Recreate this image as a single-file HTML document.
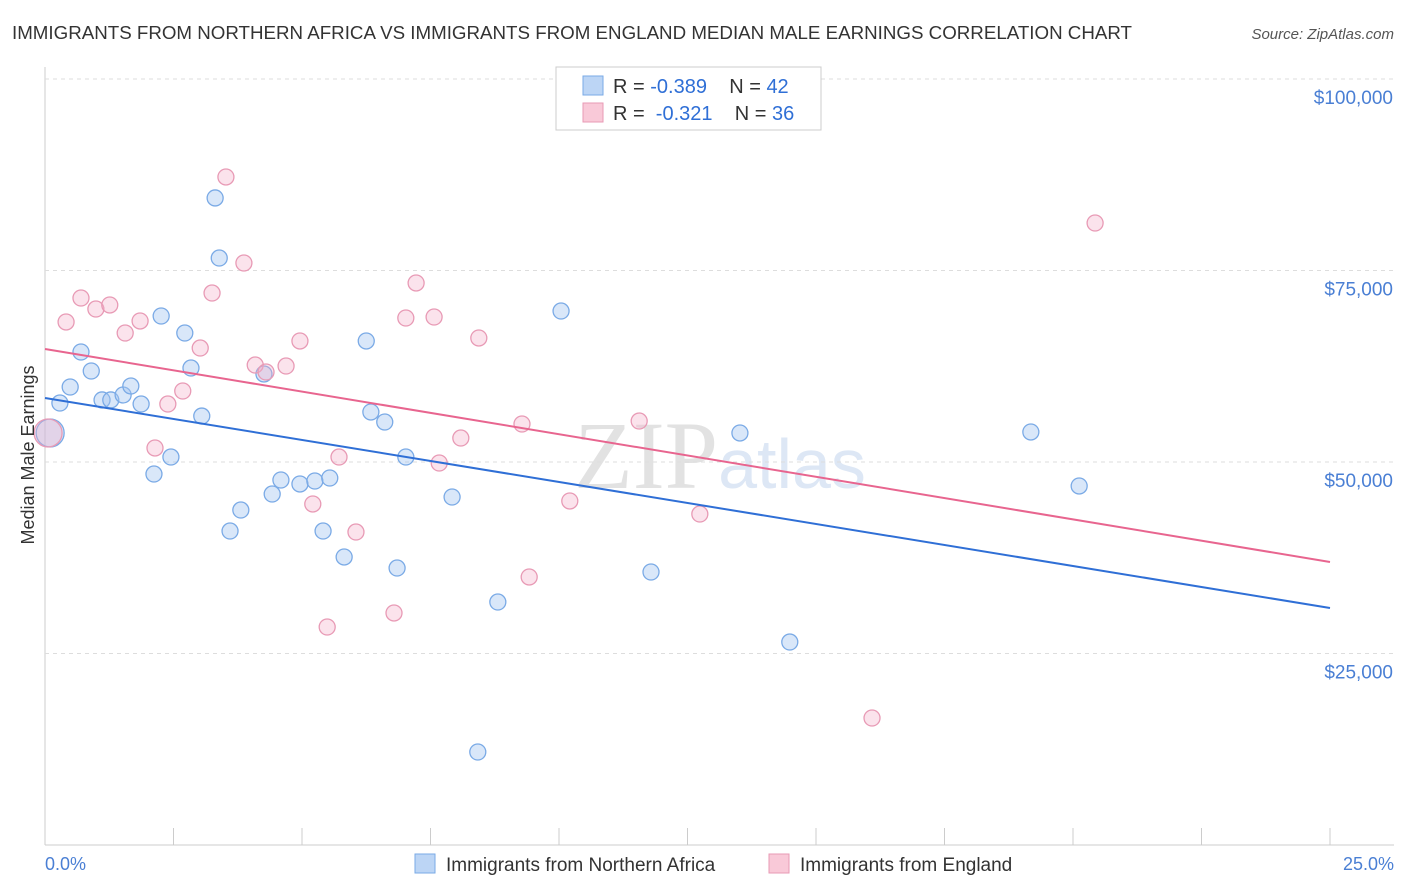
<!DOCTYPE html>
<html><head><meta charset="utf-8"><style>
body{margin:0;background:#fff;font-family:"Liberation Sans",sans-serif;}
svg{display:block}
</style></head><body>
<svg id="chart" width="1406" height="892">
<text x="12" y="39" font-size="18" fill="#333" textLength="1120" lengthAdjust="spacingAndGlyphs">IMMIGRANTS FROM NORTHERN AFRICA VS IMMIGRANTS FROM ENGLAND MEDIAN MALE EARNINGS CORRELATION CHART</text>
<text x="1394" y="39" font-size="15" fill="#555" font-style="italic" text-anchor="end">Source: ZipAtlas.com</text>
<text x="720" y="488" font-size="96" fill="#e6e6e6" text-anchor="middle" font-family="Liberation Serif,serif"><tspan fill="#e2e2e2">ZIP</tspan><tspan fill="#dde7f5" font-family="Liberation Sans,sans-serif" font-size="70">atlas</tspan></text>
<g id="grid"></g>
<g id="marks"></g>
<text transform="translate(34,455) rotate(-90)" font-size="18" fill="#333" text-anchor="middle">Median Male Earnings</text>
<text x="45" y="870" font-size="18" fill="#4a7fd4">0.0%</text>
<text x="1394" y="870" font-size="18" fill="#4a7fd4" text-anchor="end">25.0%</text>
<g>
<rect x="556" y="67" width="265" height="63" fill="#fff" stroke="#ccc"/>
<rect x="583" y="76" width="20" height="19" fill="#bcd5f5" stroke="#7aaae6"/>
<rect x="583" y="103" width="20" height="19" fill="#f9c9d8" stroke="#e89ab5"/>
<text x="613" y="93" font-size="20" fill="#333" xml:space="preserve">R = <tspan fill="#2f6fd6">-0.389</tspan>    N = <tspan fill="#2f6fd6">42</tspan></text>
<text x="613" y="120" font-size="20" fill="#333" xml:space="preserve">R =  <tspan fill="#2f6fd6">-0.321</tspan>    N = <tspan fill="#2f6fd6">36</tspan></text>
</g>
<g>
<rect x="415" y="854" width="20" height="19" fill="#bcd5f5" stroke="#7aaae6"/>
<text x="446" y="871" font-size="19" fill="#333">Immigrants from Northern Africa</text>
<rect x="769" y="854" width="20" height="19" fill="#f9c9d8" stroke="#e89ab5"/>
<text x="800" y="871" font-size="19" fill="#333">Immigrants from England</text>
</g>
</svg>
<script>
const yTicks=[25000,50000,75000,100000];
const yTickLabels=["$25,000","$50,000","$75,000","$100,000"];
const blueX=[0.10,0.29,0.49,0.70,0.90,1.11,1.28,1.52,1.67,1.87,2.12,2.26,2.45,2.72,2.84,3.05,3.31,3.39,3.60,3.81,4.26,4.42,4.59,4.96,5.25,5.41,5.54,5.82,6.25,6.34,6.61,6.85,7.02,7.92,8.42,8.81,10.04,11.79,13.52,14.49,19.18,20.12];
const blueY=[53790,57700,59790,64360,61880,58100,58100,58750,59920,57570,48430,69060,50650,66840,62270,56000,84470,76630,40990,43730,61490,45820,47650,47130,47520,40990,47910,37600,65800,56530,55220,36160,50650,45430,12140,31720,69710,35640,53790,26500,53920,46870];
const pinkX=[0.06,0.41,0.70,0.99,1.26,1.56,1.85,2.14,2.39,2.68,3.02,3.25,3.52,3.87,4.09,4.30,4.69,4.96,5.21,5.49,5.72,6.05,6.79,7.02,7.22,7.57,7.67,8.09,8.44,9.28,9.42,10.21,11.56,12.74,16.09,20.43];
const pinkY=[53790,68280,71410,69970,70500,66840,68410,51830,57570,59270,64880,72060,87210,75980,62660,61750,62530,65800,44520,28460,50650,40860,30290,68800,73370,68930,49870,53130,66190,54960,34990,44910,55350,43210,16580,81200];
const blueTrend=[58360,30940];
const pinkTrend=[64750,36950];
const NS="http://www.w3.org/2000/svg";
const xs=v=>45+v/25*1285, ys=v=>845-v/25000*191.5;
const grid=document.getElementById('grid'), marks=document.getElementById('marks');
function mk(tag,attrs,parent){const e=document.createElementNS(NS,tag);for(const k in attrs)e.setAttribute(k,attrs[k]);parent.appendChild(e);return e;}
let ax=mk('line',{x1:45,y1:67,x2:45,y2:845,stroke:'#ccc'},grid);


let bx=mk('line',{x1:45,y1:845,x2:1394,y2:845,stroke:'#ccc'},grid);


for(let i=1;i<=10;i++){let t=mk('line',{x1:xs(i*2.5),y1:828,x2:xs(i*2.5),y2:845,stroke:'#ccc'},grid);

}
yTicks.forEach((v,i)=>{let g=mk('line',{x1:45,y1:ys(v),x2:1394,y2:ys(v),stroke:'#ddd','stroke-dasharray':'4,4'},grid);


let t=mk('text',{x:1393,y:ys(v)+25,'font-size':19,fill:'#4a7fd4','text-anchor':'end'},grid);t.textContent=yTickLabels[i];

});
function pts(X,Y,fill,stroke,name){X.forEach((x,i)=>{const c=mk('circle',{cx:xs(x),cy:ys(Y[i]),r:i===0?14:8,fill:fill,stroke:stroke,'stroke-width':1.3},marks);

});}
pts(blueX,blueY,'rgba(160,196,240,0.4)','#7aaae6','point-northern-africa');
pts(pinkX,pinkY,'rgba(244,176,200,0.35)','#e89ab5','point-england');
let l1=mk('line',{x1:xs(0),y1:ys(blueTrend[0]),x2:xs(25),y2:ys(blueTrend[1]),stroke:'#2f6fd6','stroke-width':2},marks);


let l2=mk('line',{x1:xs(0),y1:ys(pinkTrend[0]),x2:xs(25),y2:ys(pinkTrend[1]),stroke:'#e8658f','stroke-width':2},marks);


</script>
</body></html>
